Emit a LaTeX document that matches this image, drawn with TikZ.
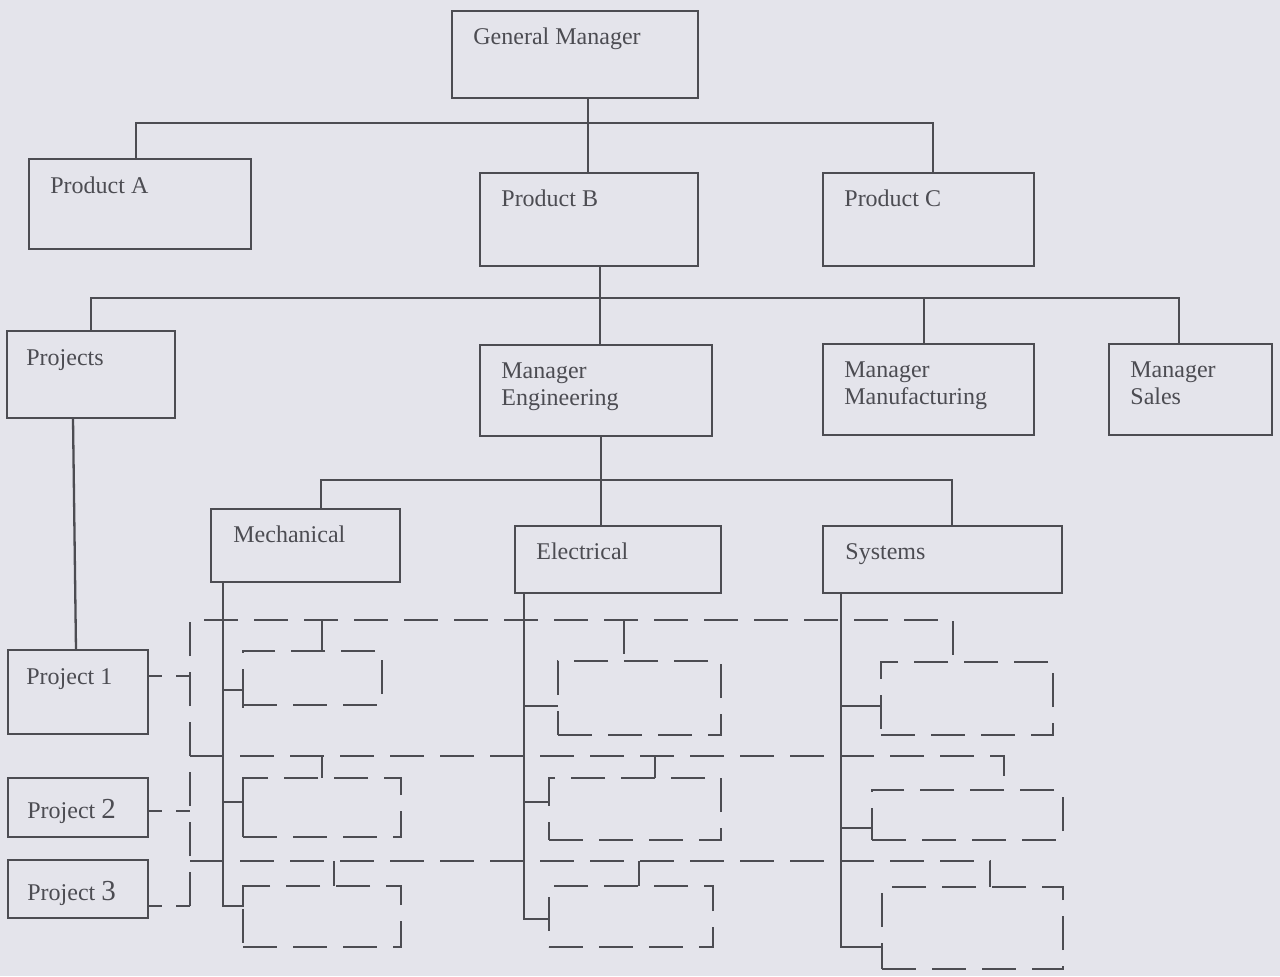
\documentclass[tikz,border=0pt]{standalone}
\usepackage{fontspec}
\setmainfont{Liberation Serif}
\definecolor{paper}{RGB}{228,228,235}
\definecolor{ink}{RGB}{76,76,82}
\newcommand\TwoLines[2]{\begin{tabular}[t]{@{}l@{}}#1\\#2\end{tabular}}
\newcommand\BigDigit[1]{{\fontsize{14.5}{14.5}\selectfont #1}}
\begin{document}
\begin{tikzpicture}[x=0.5pt,y=-0.5pt,
  box/.style={draw=ink, line width=1.15pt, anchor=north west, inner sep=0pt, outer sep=0pt},
  team/.style={box, dash pattern=on 17pt off 8pt},
  tag/.style={anchor=base west, inner sep=0pt, text=ink, font=\fontsize{12}{13.5}\selectfont},
  link/.style={draw=ink, line width=1.15pt},
  plink/.style={link, dash pattern=on 17pt off 8pt},
  stub/.style={link, dash pattern=on 7pt off 7pt},
]
\fill[paper] (0,0) rectangle (1280,976);
\useasboundingbox (0,0) rectangle (1280,976);

% ---- solid boxes of the line organisation ----
\node[box, minimum width=246*0.5pt, minimum height=87*0.5pt] (gm) at (452,11) {};
\node[box, minimum width=222*0.5pt, minimum height=90*0.5pt] (pa) at (29,159) {};
\node[box, minimum width=218*0.5pt, minimum height=93*0.5pt] (pb) at (480,173) {};
\node[box, minimum width=211*0.5pt, minimum height=93*0.5pt] (pc) at (823,173) {};
\node[box, minimum width=168*0.5pt, minimum height=87*0.5pt] (projects) at (7,331) {};
\node[box, minimum width=232*0.5pt, minimum height=91*0.5pt] (meng) at (480,345) {};
\node[box, minimum width=211*0.5pt, minimum height=91*0.5pt] (mmfg) at (823,344) {};
\node[box, minimum width=163*0.5pt, minimum height=91*0.5pt] (msales) at (1109,344) {};
\node[box, minimum width=189*0.5pt, minimum height=73*0.5pt] (mech) at (211,509) {};
\node[box, minimum width=206*0.5pt, minimum height=67*0.5pt] (elec) at (515,526) {};
\node[box, minimum width=239*0.5pt, minimum height=67*0.5pt] (sys) at (823,526) {};
\node[box, minimum width=140*0.5pt, minimum height=84*0.5pt] (p1) at (8,650) {};
\node[box, minimum width=140*0.5pt, minimum height=59*0.5pt] (p2) at (8,778) {};
\node[box, minimum width=140*0.5pt, minimum height=58*0.5pt] (p3) at (8,860) {};

% ---- box titles ----
\node[tag] (gm-t) at ([shift={(21,33)}]gm.north west) {General Manager};
\node[tag] (pa-t) at ([shift={(21,34)}]pa.north west) {Product A};
\node[tag] (pb-t) at ([shift={(21,33)}]pb.north west) {Product B};
\node[tag] (pc-t) at ([shift={(21,33)}]pc.north west) {Product C};
\node[tag] (projects-t) at ([shift={(19,34)}]projects.north west) {Projects};
\node[tag] (meng-t) at ([shift={(21,33)}]meng.north west) {\TwoLines{Manager}{Engineering}};
\node[tag] (mmfg-t) at ([shift={(21,33)}]mmfg.north west) {\TwoLines{Manager}{Manufacturing}};
\node[tag] (msales-t) at ([shift={(21,33)}]msales.north west) {\TwoLines{Manager}{Sales}};
\node[tag] (mech-t) at ([shift={(22,33)}]mech.north west) {Mechanical};
\node[tag] (elec-t) at ([shift={(21,33)}]elec.north west) {Electrical};
\node[tag] (sys-t) at ([shift={(22,33)}]sys.north west) {Systems};
\node[tag] (p1-t) at ([shift={(18,34)}]p1.north west) {Project 1};
\node[tag] (p2-t) at ([shift={(19,40)}]p2.north west) {Project \BigDigit{2}};
\node[tag] (p3-t) at ([shift={(19,40)}]p3.north west) {Project \BigDigit{3}};

% ---- dashed project teams inside each function ----
\node[team, minimum width=139*0.5pt, minimum height=54*0.5pt] (m1) at (243,651) {};
\node[team, minimum width=158*0.5pt, minimum height=59*0.5pt] (m2) at (243,778) {};
\node[team, minimum width=158*0.5pt, minimum height=61*0.5pt] (m3) at (243,886) {};
\node[team, minimum width=163*0.5pt, minimum height=74*0.5pt] (e1) at (558,661) {};
\node[team, minimum width=172*0.5pt, minimum height=62*0.5pt] (e2) at (549,778) {};
\node[team, minimum width=164*0.5pt, minimum height=61*0.5pt] (e3) at (549,886) {};
\node[team, minimum width=172*0.5pt, minimum height=73*0.5pt] (s1) at (881,662) {};
\node[team, minimum width=191*0.5pt, minimum height=50*0.5pt] (s2) at (872,790) {};
\node[team, minimum width=181*0.5pt, minimum height=82*0.5pt] (s3) at (882,887) {};

% ---- reporting lines ----
\draw[link] (pa.north -| 136,0) -- (136,123) -| (pc.north -| 933,0);
\draw[link] (gm.south -| 588,0) -- (pb.north -| 588,0);
\draw[link] (projects.north -| 91,0) -- (91,298) -| (msales.north -| 1179,0);
\draw[link] (pb.south -| 600,0) -- (meng.north -| 600,0);
\draw[link] (924,298) -- (mmfg.north -| 924,0);
\draw[link] (mech.north -| 321,0) -- (321,480) -| (sys.north -| 952,0);
\draw[link] (meng.south -| 601,0) -- (elec.north -| 601,0);
\draw[link] (projects.south -| 73,0) -- (p1.north -| 76,0);

% functional lines down to the teams
\draw[link] (mech.south -| 223,0) |- (m3.west |- 0,906) -- (m3.west |- 0,886);
\draw[link] (223,690) -- (m1.west |- 0,690) -- (m1.west |- 0,708);
\draw[link] (223,802) -- (m2.west |- 0,802) -- (m2.west |- 0,780);
\draw[link] (elec.south -| 524,0) |- (e3.west |- 0,919) -- (e3.west |- 0,906);
\draw[link] (524,706) -- (e1.west |- 0,706);
\draw[link] (524,802) -- (e2.west |- 0,802);
\draw[link] (sys.south -| 841,0) |- (s3.west |- 0,947);
\draw[link] (841,706) -- (s1.west |- 0,706);
\draw[link] (841,828) -- (s2.west |- 0,828);

% ---- project lines across the functions ----
\draw[stub] (p1.east |- 0,676) -- (190,676);
\draw[stub] (p2.east |- 0,811) -- (190,811);
\draw[stub] (p3.east |- 0,906) -- (190,906);
\draw[plink] (190,906) -- (190,620) -- (953,620) -- (s1.north -| 953,0);
\draw[plink] (190,756) -- (1004,756) -- (s2.north -| 1004,0);
\draw[plink] (190,861) -- (990,861) -- (s3.north -| 990,0);
\draw[plink] (322,620) -- (m1.north -| 322,0);
\draw[plink] (624,620) -- (e1.north -| 624,0);
\draw[plink] (322,756) -- (m2.north -| 322,0);
\draw[plink] (655,756) -- (e2.north -| 655,0);
\draw[plink] (334,861) -- (m3.north -| 334,0);
\draw[plink] (639,861) -- (e3.north -| 639,0);
\end{tikzpicture}
\end{document}
